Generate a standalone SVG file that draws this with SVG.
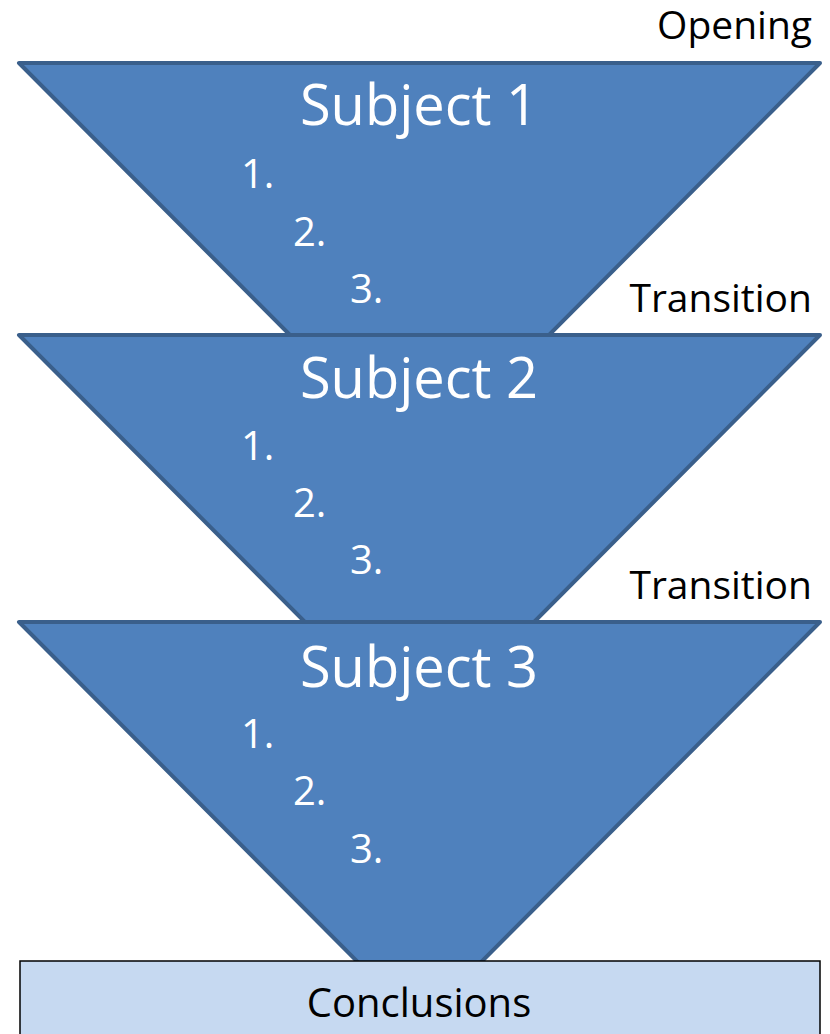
<svg xmlns="http://www.w3.org/2000/svg" width="830" height="1034" viewBox="0 0 830 1034">
<style>
.tri{fill:#4F81BD;stroke:#3A5F8B;stroke-width:4;stroke-linejoin:round}
.box{fill:#C6D9F1;stroke:#000;stroke-width:1.5}
text{font-family:"Open Sans","Noto Sans",sans-serif}
.subj{fill:#fff;font-size:56px;text-anchor:middle}
.num{fill:#fff;font-size:40px}
.lbl{fill:#000;font-size:39px;text-anchor:end}
.concl{fill:#000;font-size:40px;text-anchor:middle}
</style>
<rect width="830" height="1034" fill="#fff"/>
<g id="opening-label"><text class="lbl" x="812" y="39">Opening</text></g>
<g id="subject1">
<polygon class="tri" points="19,63 820,63 419.5,465"/>
<text class="subj" x="419" y="125">Subject 1</text>
<text class="num" x="241" y="188">1.</text>
<text class="num" x="293" y="246">2.</text>
<text class="num" x="350" y="303">3.</text>
</g>
<g id="transition1"><text class="lbl" x="812" y="312">Transition</text></g>
<g id="subject2">
<polygon class="tri" points="19,335 820,335 419.5,737"/>
<text class="subj" x="419" y="398">Subject 2</text>
<text class="num" x="241" y="460">1.</text>
<text class="num" x="293" y="517">2.</text>
<text class="num" x="350" y="574">3.</text>
</g>
<g id="transition2"><text class="lbl" x="812" y="599">Transition</text></g>
<g id="subject3">
<polygon class="tri" points="19,622 820,622 419.5,1024"/>
<text class="subj" x="419" y="687">Subject 3</text>
<text class="num" x="241" y="748">1.</text>
<text class="num" x="293" y="805">2.</text>
<text class="num" x="350" y="863">3.</text>
</g>
<g id="conclusions">
<rect class="box" x="20" y="961" width="800" height="90"/>
<text class="concl" x="419" y="1017">Conclusions</text>
</g>
<g id="connectors"></g>
</svg>
